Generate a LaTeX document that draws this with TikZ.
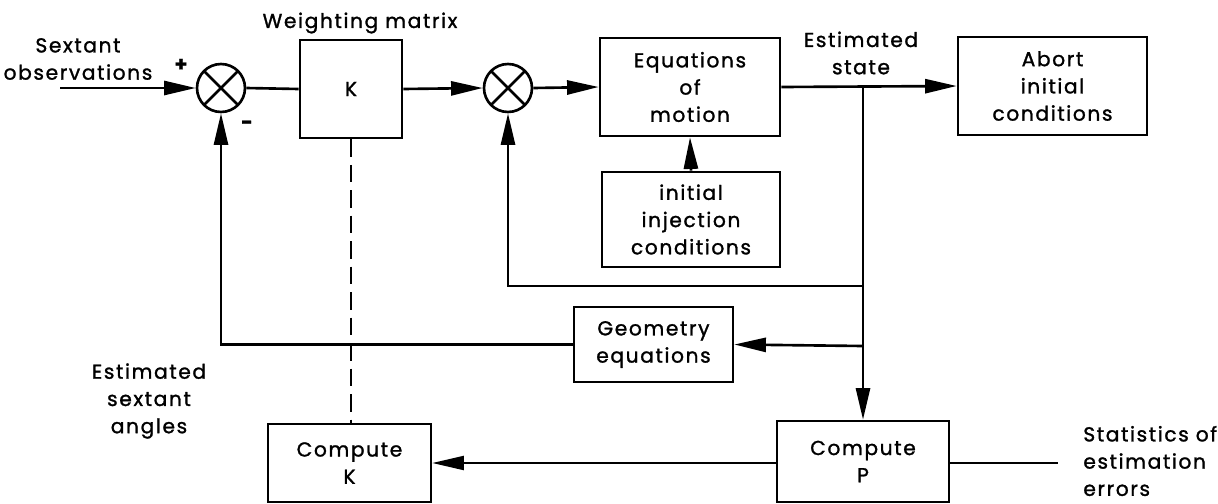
\documentclass[tikz,border=0pt]{standalone}
\usepackage{fontspec}
\setmainfont{Poppins}[LetterSpace=8, FakeBold=1.3]
\usetikzlibrary{positioning,arrows.meta}
\newcommand{\diagfont}{\fontsize{11.5}{15.5}\selectfont}

\begin{document}
\begin{tikzpicture}[x=0.02cm, y=-0.02cm,
  block/.style 2 args={rectangle, draw, line width=1.5pt, minimum width=#1,
    minimum height=#2, align=center, font=\diagfont, inner sep=0pt},
  summer/.style={circle, draw, line width=1.5pt, minimum size=0.96cm, inner sep=0pt,
    path picture={\draw[line width=1.5pt]
      (path picture bounding box.north west) -- (path picture bounding box.south east)
      (path picture bounding box.north east) -- (path picture bounding box.south west);}},
  label/.style={font=\diagfont, align=center, inner sep=0pt},
  sig/.style={line width=1.5pt},
  arr/.style={sig, -{Triangle[length=18pt, width=8pt]}}
]
\useasboundingbox (0,0) rectangle (1218,504);

% forward path
\coordinate (in) at (60,88);
\node[summer] (sum1) at (221,88) {};
\node[block={2.04cm}{1.96cm}] (K) at (351,89) {K};
\node[summer] (sum2) at (508,88) {};
\node[block={3.6cm}{1.96cm}] (eqm) at (690,87) {Equations\\of\\motion};
\node[block={3.56cm}{1.9cm}] (init) at (691,219.5) {initial\\injection\\conditions};
\node[block={3.78cm}{1.96cm}] (abort) at (1052.5,86) {Abort\\initial\\conditions};

% feedback blocks
\node[block={3.18cm}{1.5cm}] (geom) at (653.5,344.5) {Geometry\\equations};
\node[block={3.44cm}{1.62cm}] (compP) at (863,461.5) {Compute\\P};
\node[block={3.26cm}{1.56cm}] (compK) at (349.5,463) {Compute\\K};

\coordinate (j1) at (863,88);
\coordinate (j2) at (863,286);
\coordinate (j3) at (863,346);
\coordinate (out) at (1058,463);

% labels
\node[label] (obs) at (78,59) {Sextant\\observations};
\node[label, font=\diagfont\bfseries] (plus) at (181,65) {+};
\node[label, font=\diagfont\bfseries] (minus) at (247,125) {-};
\node[label] (wm) at (360,23) {Weighting matrix};
\node[label] (est) at (861,53) {Estimated\\state};
\node[label] (ang) at (149,401) {Estimated\\sextant\\angles};
\node[label, anchor=west, align=left] (stat) at (1083,461) {Statistics of\\estimation\\errors};

% connectors
\draw[arr] (in) -- (sum1.west);
\draw[sig] (sum1.east) -- (K.west);
\draw[arr] (K.east) -- (sum2.west);
\draw[arr] (sum2.east) -- (eqm.west);
\draw[arr] (init.north) -- (eqm.south);
\draw[arr] (eqm.east) -- (abort.west);
\draw[arr] (j1) -- (compP.north);
\draw[arr] (j2) -- (sum2 |- j2) -- (sum2.south);
\draw[arr] (j3) -- (geom.east);
\draw[arr] (geom.west) -- (sum1 |- geom.west) -- (sum1.south);
\draw[arr, line width=1.1pt] (compP.west |- compK.east) -- (compK.east);
\draw[line width=1.1pt] (compP.east |- out) -- (out);
\draw[line width=1.5pt, dash pattern=on 10pt off 4.5pt] (K.south) -- (K.south |- compK.north);

\end{tikzpicture}
\end{document}
